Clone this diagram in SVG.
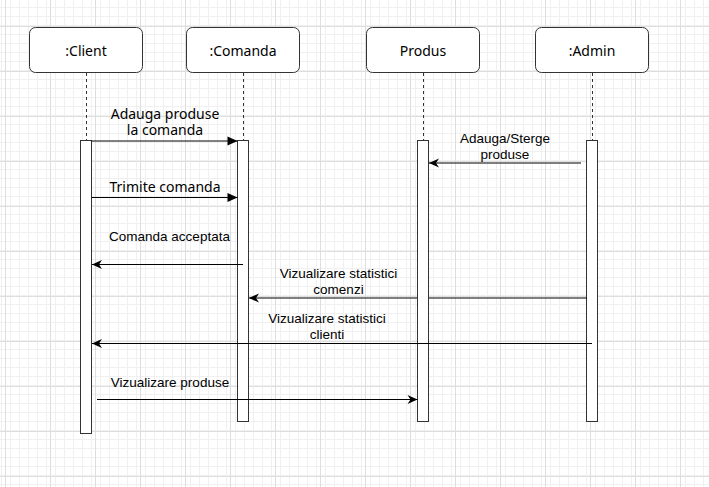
<svg xmlns="http://www.w3.org/2000/svg" width="709" height="487" viewBox="0 0 709 487">
<defs>
<pattern id="minor" x="5" y="26" width="9" height="9" patternUnits="userSpaceOnUse">
<path d="M0.5 0V9M0 0.5H9" stroke="#f0f0f0" stroke-width="1" fill="none"/>
</pattern>
<pattern id="major" x="5" y="26" width="45" height="45" patternUnits="userSpaceOnUse">
<rect width="45" height="45" fill="url(#minor)"/>
<path d="M0.5 0V45M0 0.5H45" stroke="#dedede" stroke-width="1" fill="none"/>
</pattern>
<marker id="block" markerUnits="userSpaceOnUse" markerWidth="11" markerHeight="10" refX="10" refY="4.5" orient="auto" overflow="visible">
<path d="M0 0L10 4.5L0 9Z" fill="#000"/>
</marker>
<marker id="classic" markerUnits="userSpaceOnUse" markerWidth="11" markerHeight="10" refX="10" refY="4.5" orient="auto" overflow="visible">
<path d="M0 0L10 4.5L0 9L3 4.5Z" fill="#000"/>
</marker>
</defs>
<style>
.box{fill:#fff;stroke:#333;stroke-width:1}
.life{stroke:#333;stroke-width:1;stroke-dasharray:3 3;fill:none}
.bar{fill:#fff;stroke:#333;stroke-width:1}
.msg{stroke:#000;stroke-width:1;fill:none}
.seg{font-family:"Noto Sans","Open Sans","DejaVu Sans",sans-serif;font-size:14px;text-anchor:middle;fill:#000}
.ari{font-family:"Liberation Sans",Arial,sans-serif;font-size:13.5px;text-anchor:middle;fill:#000}
</style>
<rect width="709" height="487" fill="#fff"/>
<rect width="709" height="487" fill="url(#major)"/>

<g id="client">
<rect class="box" x="29.5" y="27.5" width="113" height="45" rx="6"/>
<text class="seg" x="86" y="56">:Client</text>
<path class="life" d="M86.5 73V141"/>
<rect class="bar" x="80.5" y="140.5" width="11" height="293"/>
</g>
<g id="comanda">
<rect class="box" x="186.5" y="27.5" width="113" height="45" rx="6"/>
<text class="seg" x="243" y="56">:Comanda</text>
<path class="life" d="M243.5 73V141"/>
<rect class="bar" x="237.5" y="140.5" width="11" height="281"/>
</g>
<g id="produs">
<rect class="box" x="366.5" y="27.5" width="113" height="45" rx="6"/>
<text class="seg" x="423" y="56">Produs</text>
<path class="life" d="M423.5 73V141"/>
<rect class="bar" x="417.5" y="140.5" width="11" height="281"/>
</g>
<g id="admin">
<rect class="box" x="535.5" y="27.5" width="113" height="45" rx="6"/>
<text class="seg" x="592" y="56">:Admin</text>
<path class="life" d="M592.5 73V141"/>
<rect class="bar" x="586.5" y="140.5" width="11" height="281"/>
</g>

<g id="connectors">
<path class="msg" d="M91.5 141H237.5" marker-end="url(#block)"/>
<text class="seg" x="165" y="119">Adauga produse</text>
<text class="seg" x="165" y="134.5">la comanda</text>

<path class="msg" d="M581 163H429" marker-end="url(#classic)"/>
<text class="ari" x="505" y="142.5">Adauga/Sterge</text>
<text class="ari" x="505" y="158.5">produse</text>

<path class="msg" d="M91.5 197.5H237.5" marker-end="url(#block)"/>
<text class="seg" x="165" y="192">Trimite comanda</text>

<path class="msg" d="M243 264.5H92" marker-end="url(#classic)"/>
<text class="ari" x="169.5" y="241">Comanda acceptata</text>

<path class="msg" d="M587 298H429M417 298H249" marker-end="url(#classic)"/>
<text class="ari" x="338.5" y="277.5">Vizualizare statistici</text>
<text class="ari" x="338.5" y="293.5">comenzi</text>

<path class="msg" d="M592 343.5H92" marker-end="url(#classic)"/>
<text class="ari" x="327" y="323">Vizualizare statistici</text>
<text class="ari" x="327" y="339">clienti</text>

<path class="msg" d="M97 399.5H417.5" marker-end="url(#classic)"/>
<text class="ari" x="170" y="387">Vizualizare produse</text>
</g>
</svg>
